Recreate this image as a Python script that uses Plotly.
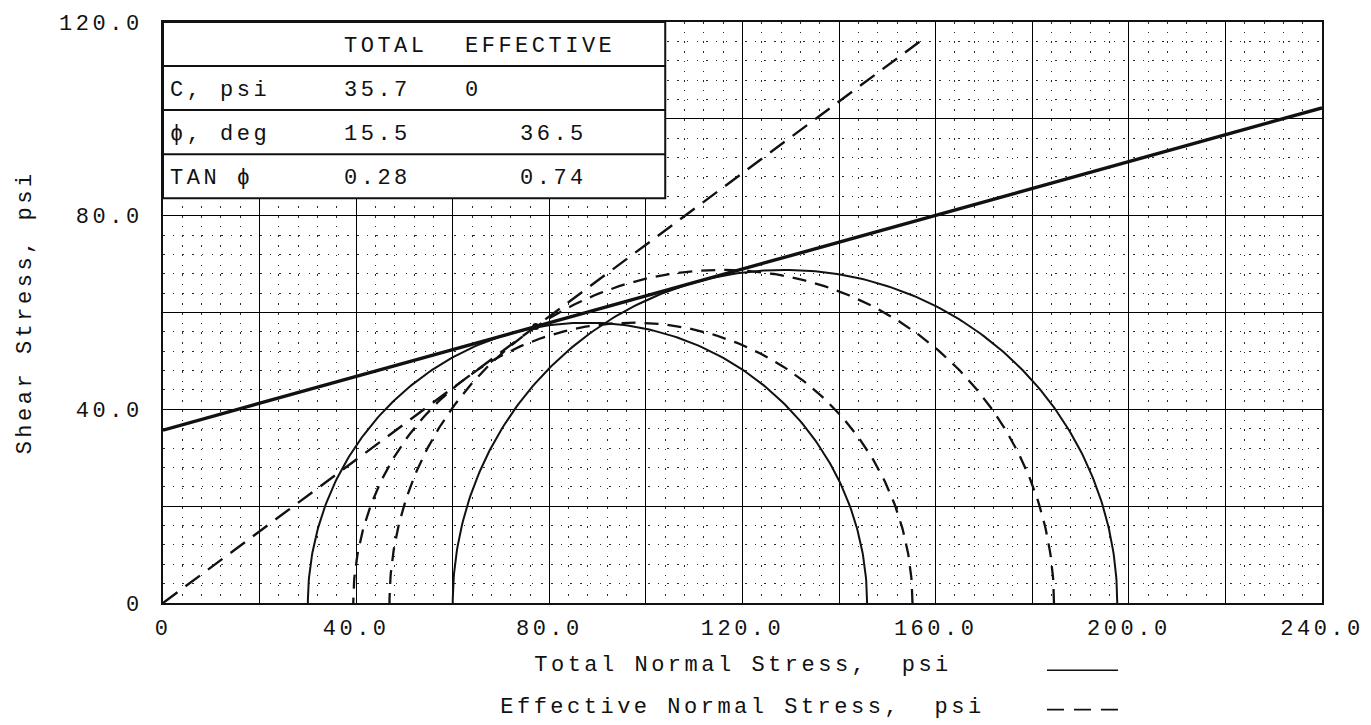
import numpy as np
import plotly.graph_objects as go

# ---- strength parameters ----
total_c = 35.7          # psi
total_phi = 15.5        # deg
eff_c = 0.0             # psi
eff_phi = 36.5          # deg

# ---- Mohr circles (minor / major principal stress, psi) ----
total_sigma3 = [30.0, 60.0]
total_sigma1 = [145.8, 197.6]
eff_sigma3 = [39.4, 46.9]
eff_sigma1 = [155.2, 184.5]

# extent of the effective envelope line
eff_env_x_end = 157.5

# ---- axes ----
x_grid_vals = list(range(0, 241, 20))
x_tick_labels = ["0", "", "40.0", "", "80.0", "", "120.0", "", "160.0", "", "200.0", "", "240.0"]
y_grid_vals = list(range(0, 121, 20))
y_tick_labels = ["0", "", "40.0", "", "80.0", "", "120.0"]

# ---- summary table ----
table_header = ["TOTAL", "EFFECTIVE"]
table_row_labels = ["C, psi", "\u03d5, deg", "TAN \u03d5"]

tan_total = np.tan(np.radians(total_phi))
tan_eff = np.tan(np.radians(eff_phi))
table_total = [f"{total_c:.1f}", f"{total_phi:.1f}", f"{tan_total:.2f}"]
table_eff = [f"{eff_c:.0f}", f"{eff_phi:.1f}", f"{tan_eff:.2f}"]

FONT = "Liberation Mono, DejaVu Sans Mono, monospace"
FS = 22
INK = "#111111"
LETTER_SPACING = "3.5px"

fig = go.Figure()

theta = np.linspace(0.0, np.pi, 241)

# total stress circles (solid)
for s3, s1 in zip(total_sigma3, total_sigma1):
    cen, rad = (s1 + s3) / 2, (s1 - s3) / 2
    fig.add_trace(go.Scatter(x=cen + rad * np.cos(theta), y=rad * np.sin(theta),
                             mode="lines", line=dict(color=INK, width=2.0),
                             showlegend=False, hoverinfo="skip"))

# effective stress circles (dashed)
for s3, s1 in zip(eff_sigma3, eff_sigma1):
    cen, rad = (s1 + s3) / 2, (s1 - s3) / 2
    fig.add_trace(go.Scatter(x=cen + rad * np.cos(theta), y=rad * np.sin(theta),
                             mode="lines", line=dict(color=INK, width=2.3, dash="14px,9px"),
                             showlegend=False, hoverinfo="skip"))

# total stress failure envelope
env_x = np.array([0.0, 240.0])
fig.add_trace(go.Scatter(x=env_x, y=total_c + tan_total * env_x, mode="lines",
                         line=dict(color=INK, width=3.4), showlegend=False, hoverinfo="skip"))

# effective stress failure envelope
eff_x = np.array([0.0, eff_env_x_end])
fig.add_trace(go.Scatter(x=eff_x, y=eff_c + tan_eff * eff_x, mode="lines",
                         line=dict(color=INK, width=2.4, dash="18px,10px"),
                         showlegend=False, hoverinfo="skip"))

# intersection of the two envelopes
x_int = (total_c - eff_c) / (tan_eff - tan_total)
fig.add_trace(go.Scatter(x=[x_int], y=[eff_c + tan_eff * x_int], mode="markers",
                         marker=dict(color=INK, size=7), showlegend=False, hoverinfo="skip"))

# ---- table box ----
tbl_x1 = 104.0
tbl_top = 120.0
row_h = 9.1
n_rows = 1 + len(table_row_labels)
tbl_bottom = tbl_top - n_rows * row_h
shapes = [dict(type="rect", xref="x", yref="y", x0=0, x1=tbl_x1, y0=tbl_bottom, y1=tbl_top,
               fillcolor="white", line=dict(color=INK, width=2), layer="above")]
for k in range(1, n_rows):
    yk = tbl_top - k * row_h
    shapes.append(dict(type="line", xref="x", yref="y", x0=0, x1=tbl_x1, y0=yk, y1=yk,
                       line=dict(color=INK, width=2), layer="above"))

annotations = []
col_total_x = 37.1
col_eff_x = [62.1, 73.6, 73.6]
label_x = 1.1


def cell(x, y, text):
    annotations.append(dict(x=x, y=y, xref="x", yref="y", text=text, showarrow=False,
                            xanchor="left", yanchor="middle", align="left",
                            font=dict(family=FONT, size=FS, color=INK)))


hdr_y = tbl_top - row_h / 2 - 0.5
cell(col_total_x, hdr_y, table_header[0])
cell(col_eff_x[0], hdr_y, table_header[1])
for i, lab in enumerate(table_row_labels):
    yr = tbl_top - (i + 1.5) * row_h - 0.4
    cell(label_x, yr, lab)
    cell(col_total_x, yr, table_total[i])
    cell(col_eff_x[i], yr, table_eff[i])

# ---- axis titles and line key ----
annotations.append(dict(x=0.5, y=0, xref="paper", yref="paper", yshift=-62,
                        text="Total Normal Stress,\u00a0\u00a0psi", showarrow=False,
                        xanchor="center", yanchor="middle",
                        font=dict(family=FONT, size=FS, color=INK)))
annotations.append(dict(x=0.5, y=0, xref="paper", yref="paper", yshift=-104,
                        text="Effective Normal Stress,\u00a0\u00a0psi", showarrow=False,
                        xanchor="center", yanchor="middle",
                        font=dict(family=FONT, size=FS, color=INK)))
annotations.append(dict(x=-0.119, y=0.5, xref="paper", yref="paper",
                        text="Shear Stress,\u00a0psi", textangle=-90, showarrow=False,
                        xanchor="center", yanchor="middle",
                        font=dict(family=FONT, size=FS, color=INK)))

key_x0, key_x1 = 0.7627, 0.824
shapes.append(dict(type="line", xref="paper", yref="paper", x0=key_x0, x1=key_x1,
                   y0=-68 / 588, y1=-68 / 588, line=dict(color=INK, width=1.6)))
shapes.append(dict(type="line", xref="paper", yref="paper", x0=key_x0, x1=key_x1,
                   y0=-108 / 588, y1=-108 / 588, line=dict(color=INK, width=1.8, dash="17px,10px")))

axis_common = dict(showgrid=True, gridcolor="#000000", gridwidth=1.4, zeroline=False,
                   showline=True, mirror=True, linecolor=INK, linewidth=2, ticks="",
                   tickfont=dict(family=FONT, size=FS, color=INK),
                   minor=dict(dtick=4, tick0=0, showgrid=True, gridcolor="#2a2a2a",
                              gridwidth=1.3, griddash="1.5px,8.2px"))

fig.update_layout(
    width=1371, height=725,
    margin=dict(l=163, r=49, t=15, b=122),
    paper_bgcolor="white", plot_bgcolor="white",
    xaxis=dict(range=[0, 240], tickmode="array", tickvals=x_grid_vals, ticktext=x_tick_labels,
               ticklabelstandoff=4, **axis_common),
    yaxis=dict(range=[0, 120], tickmode="array", tickvals=y_grid_vals, ticktext=y_tick_labels,
               ticklabelstandoff=14, **axis_common),
    shapes=shapes,
    annotations=annotations,
)

# wide plotter-style lettering
spacing_js = """
var gd = document.getElementById('{plot_id}');
function widenText() {
  gd.querySelectorAll('svg text').forEach(function (t) {
    t.style.letterSpacing = '%s';
  });
}
widenText();
gd.on('plotly_afterplot', widenText);
""" % LETTER_SPACING

fig.write_html("out.html", post_script=spacing_js)
